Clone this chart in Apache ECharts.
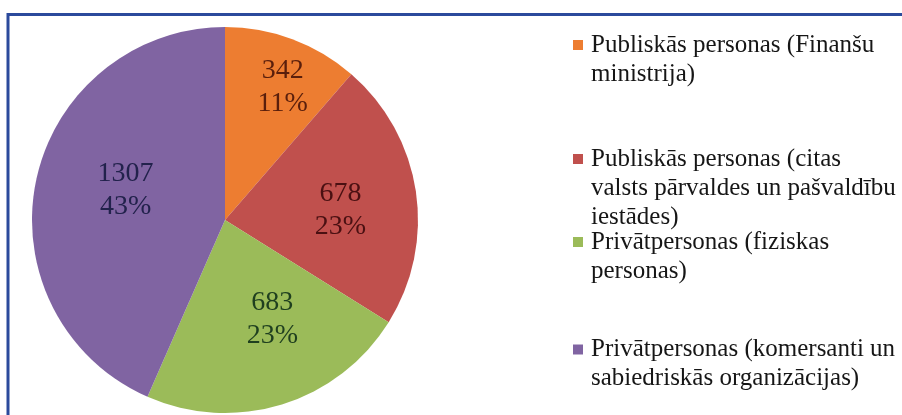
<!DOCTYPE html>
<html>
<head>
<meta charset="utf-8">
<script src="https://cdn.jsdelivr.net/npm/echarts@6/dist/echarts.min.js"></script>
<style>
  html, body { margin: 0; padding: 0; background: #ffffff; }
  #chart { width: 902px; height: 415px; }
</style>
</head>
<body>
<div id="chart"></div>
<script>
// Submitted requests by applicant group
const categories = [
  'Publiskās personas (Finanšu\nministrija)',
  'Publiskās personas (citas\nvalsts pārvaldes un pašvaldību\niestādes)',
  'Privātpersonas (fiziskas\npersonas)',
  'Privātpersonas (komersanti un\nsabiedriskās organizācijas)'
];
const values = [342, 678, 683, 1307];
const sliceColors = ['#ED7D31', '#C0504D', '#9BBB59', '#8064A2'];
const labelColors = ['#5a1f0c', '#4a1012', '#1f3f1f', '#22224c'];

// nudges for the in-slice value labels
const labelNudge = [[23, -40], [17, 5], [18, 4], [-2, -9]];
// vertical placement of each legend entry
const legendTops = [30.5, 144.5, 227.5, 335];

const serif = '"Liberation Serif", "DejaVu Serif", serif';
const LH = 29;

const rich = {
  sp: { width: 8, height: LH, lineHeight: LH },
  ind: { width: 18, height: LH, lineHeight: LH },
  t: { fontFamily: serif, fontSize: 25, color: '#161616', lineHeight: LH }
};
sliceColors.forEach((c, i) => {
  rich['m' + i] = { width: 10, height: 10, backgroundColor: c, lineHeight: LH };
});

function legendText(name) {
  const i = categories.indexOf(name);
  return name.split('\n').map((line, k) =>
    (k === 0 ? '{m' + i + '|}{sp|}' : '{ind|}') + '{t|' + line + '}'
  ).join('\n');
}

const legends = categories.map((name, i) => ({
  data: [name],
  left: 568,
  top: legendTops[i],
  padding: 0,
  icon: 'none',
  itemWidth: 0,
  itemHeight: 0,
  selectedMode: false,
  formatter: legendText,
  textStyle: { rich: rich }
}));

const chart = echarts.init(document.getElementById('chart'), null, { renderer: 'canvas' });
chart.setOption({
  animation: false,
  backgroundColor: '#ffffff',
  graphic: [{
    type: 'rect',
    shape: { x: 8, y: 14.5, width: 920, height: 430 },
    style: { fill: 'none', stroke: '#2b4a9c', lineWidth: 3 },
    silent: true
  }],
  legend: legends,
  series: [{
    type: 'pie',
    center: [225, 220],
    radius: 193,
    startAngle: 90,
    clockwise: true,
    avoidLabelOverlap: false,
    itemStyle: { borderWidth: 0 },
    label: {
      show: true,
      position: 'inside',
      fontFamily: serif,
      fontSize: 28,
      lineHeight: 33,
      formatter: p => p.value + '\n' + Math.round(p.percent) + '%'
    },
    labelLine: { show: false },
    labelLayout: p => ({ dx: labelNudge[p.dataIndex][0], dy: labelNudge[p.dataIndex][1] }),
    data: categories.map((name, i) => ({
      name: name,
      value: values[i],
      itemStyle: { color: sliceColors[i] },
      label: { color: labelColors[i] }
    }))
  }]
});
</script>
</body>
</html>
